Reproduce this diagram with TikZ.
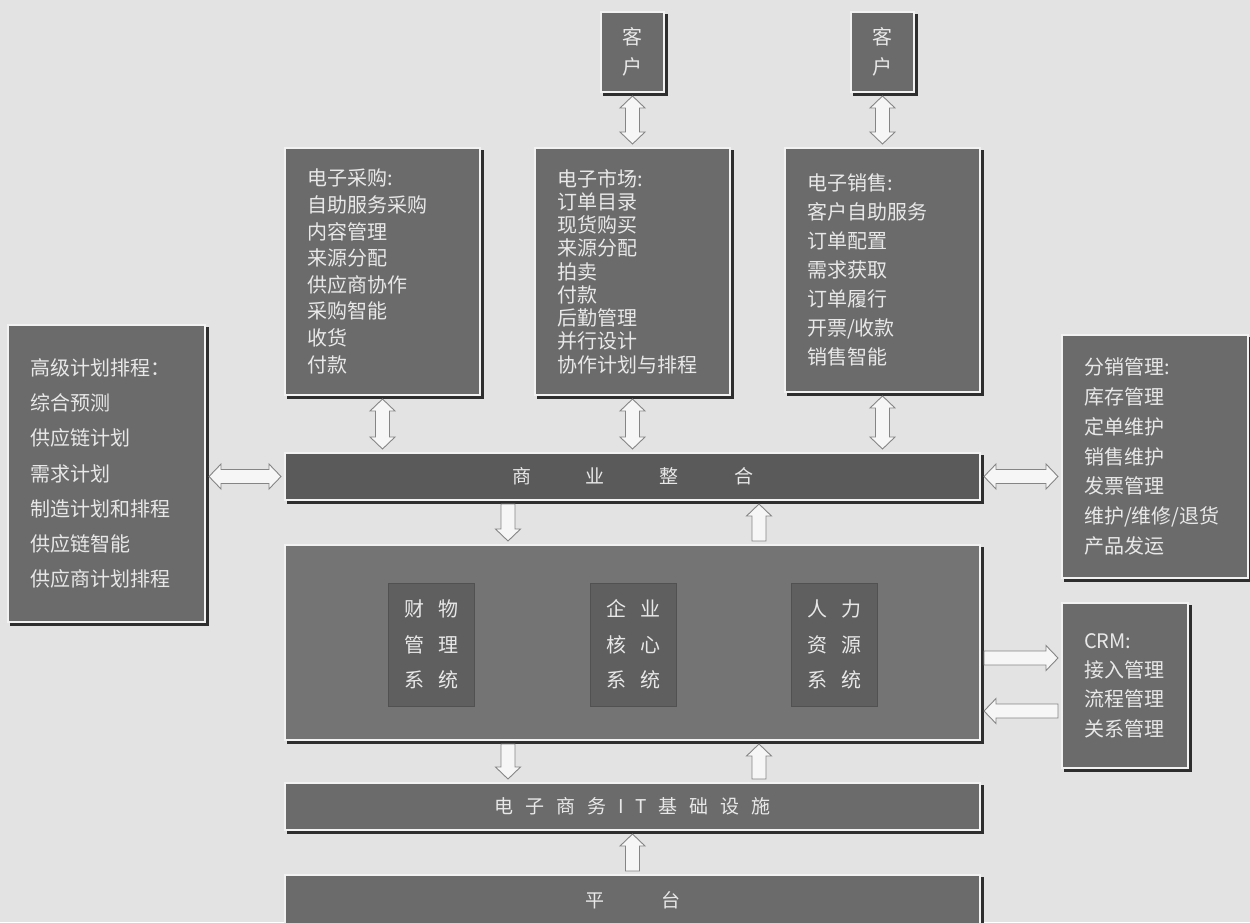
\documentclass[tikz,border=0pt]{standalone}
\usepackage{fontspec}
\setmainfont{Noto Sans CJK SC}
\usetikzlibrary{calc}
\definecolor{bgc}{HTML}{E3E3E3}
\definecolor{boxc}{HTML}{6B6B6B}
\definecolor{barc}{HTML}{5A5A5A}
\definecolor{corec}{HTML}{747474}
\definecolor{innerc}{HTML}{5F5F5F}
\definecolor{txtc}{HTML}{E8E8E8}
\definecolor{framec}{HTML}{F2F2F2}
\definecolor{shadc}{HTML}{2E2E2E}
\definecolor{arrc}{HTML}{858585}
\definecolor{arrf}{HTML}{F6F6F6}
\newcommand\arwS[2]{({\x1+((#1)*\n2-(#2)*\n3)*1pt},{\y1+((#1)*\n3+(#2)*\n2)*1pt})}
\newcommand\arwE[2]{({\x2+((#1)*\n2-(#2)*\n3)*1pt},{\y2+((#1)*\n3+(#2)*\n2)*1pt})}
\tikzset{
  bevel/.style={draw=framec, line width=2pt,
    preaction={draw=shadc, fill=shadc, line width=2pt, transform canvas={shift={(3pt,-3pt)}}}},
  tbox/.style={rectangle, bevel, fill=boxc, text=txtc, align=left,
    inner xsep=22pt, inner ysep=0pt},
  kbox/.style={rectangle, bevel, fill=boxc, text=txtc, align=center, inner sep=0pt,
    minimum width=63pt, minimum height=80pt, font=\fontsize{20}{30}\selectfont},
  bar/.style={rectangle, bevel, fill=barc, text=txtc, inner sep=0pt,
    minimum width=695pt, minimum height=47pt, font=\fontsize{19}{19}\selectfont},
  innerbox/.style={rectangle, fill=innerc, draw=innerc!85!black, line width=0.6pt, text=txtc,
    align=center, inner sep=0pt, minimum width=86pt, minimum height=123pt,
    font=\fontsize{20}{35.5}\selectfont},
  arrbase/.style={draw=arrc, fill=arrf, line width=0.9pt, line join=miter},
  sarrow/.style={arrbase, to path={let \p1=(\tikztostart), \p2=(\tikztotarget),
    \n1={veclen(\x2-\x1,\y2-\y1)}, \n2={(\x2-\x1)/\n1}, \n3={(\y2-\y1)/\n1} in
    \arwS{3}{7} -- \arwE{-15}{7} -- \arwE{-15}{12.5} -- \arwE{-3}{0} -- \arwE{-15}{-12.5}
    -- \arwE{-15}{-7} -- \arwS{3}{-7} -- cycle}},
  darrow/.style={arrbase, to path={let \p1=(\tikztostart), \p2=(\tikztotarget),
    \n1={veclen(\x2-\x1,\y2-\y1)}, \n2={(\x2-\x1)/\n1}, \n3={(\y2-\y1)/\n1} in
    \arwS{3}{0} -- \arwS{15}{12.5} -- \arwS{15}{7} -- \arwE{-15}{7} -- \arwE{-15}{12.5}
    -- \arwE{-3}{0} -- \arwE{-15}{-12.5} -- \arwE{-15}{-7} -- \arwS{15}{-7}
    -- \arwS{15}{-12.5} -- cycle}},
}
\begin{document}
\begin{tikzpicture}[x=1pt,y=-1pt]
\useasboundingbox (0,0) rectangle (1250,922);
\fill[bgc] (0,0) rectangle (1250,922);

% customers
\node[kbox] (k1) at (632.5,52) {客\\户};
\node[kbox] (k2) at (882.5,52) {客\\户};

% top boxes
\node[tbox, text width=151pt, minimum height=247pt, font=\fontsize{20}{26.6}\selectfont]
  (cg) at (382.5,271.5) {电子采购:\\自助服务采购\\内容管理\\来源分配\\供应商协作\\采购智能\\收货\\付款};
\node[tbox, text width=151pt, minimum height=247pt, font=\fontsize{20}{23.25}\selectfont]
  (sc) at (632.5,271.5) {电子市场:\\订单目录\\现货购买\\来源分配\\拍卖\\付款\\后勤管理\\并行设计\\协作计划与排程};
\node[tbox, text width=151pt, minimum height=244pt, font=\fontsize{20}{29}\selectfont]
  (xs) at (882.5,270) {电子销售:\\客户自助服务\\订单配置\\需求获取\\订单履行\\开票/收款\\销售智能};

% left box
\node[tbox, text width=153pt, minimum height=297pt, font=\fontsize{20}{35.3}\selectfont]
  (jh) at (106.5,473.5) {高级计划排程：\\综合预测\\供应链计划\\需求计划\\制造计划和排程\\供应链智能\\供应商计划排程};

% right boxes
\node[tbox, text width=142pt, minimum height=243pt, font=\fontsize{20}{29.7}\selectfont]
  (fx) at (1155,456.5) {分销管理:\\库存管理\\定单维护\\销售维护\\发票管理\\维护/维修/退货\\产品发运};
\node[tbox, text width=82pt, minimum height=165pt, font=\fontsize{20}{29.3}\selectfont]
  (crm) at (1125,685.5) {CRM:\\接入管理\\流程管理\\关系管理};

% bars
\node[bar] (zh) at (632.5,476.5) {商\hspace{55pt}业\hspace{55pt}整\hspace{55pt}合\hspace{14pt}};
\node[bar, fill=boxc] (it) at (632.5,806.5) {电\hspace{12pt}子\hspace{12pt}商\hspace{12pt}务\hspace{12pt}I\hspace{12pt}T\hspace{12pt}基\hspace{12pt}础\hspace{12pt}设\hspace{12pt}施\hspace{8pt}};
\node[bar, fill=boxc, minimum height=50pt] (pt) at (632.5,900) {平\hspace{57pt}台\hspace{14pt}};

% core
\node[rectangle, bevel, fill=corec, minimum width=695pt, minimum height=195pt] (core) at (632.5,642.5) {};
\node[innerbox] (cw) at (431.5,644.5) {财\hspace{14pt}物\\管\hspace{14pt}理\\系\hspace{14pt}统};
\node[innerbox] (qy) at (633,644.5) {企\hspace{14pt}业\\核\hspace{14pt}心\\系\hspace{14pt}统};
\node[innerbox] (rl) at (834,644.5) {人\hspace{14pt}力\\资\hspace{14pt}源\\系\hspace{14pt}统};

% helper coordinates
\coordinate (colA) at (508,0);
\coordinate (colB) at (759,0);
\coordinate (rowA) at (0,658);
\coordinate (rowB) at (0,711);

% connectors
\draw[darrow] (k1.south) to (sc.north);
\draw[darrow] (k2.south) to (xs.north);
\draw[darrow] (cg.south) to (cg.south |- zh.north);
\draw[darrow] (sc.south) to (sc.south |- zh.north);
\draw[darrow] (xs.south) to (xs.south |- zh.north);
\draw[darrow] (jh.east |- zh.west) to (zh.west);
\draw[darrow] (zh.east) to (zh.east -| fx.west);
\draw[sarrow] (zh.south -| colA) to (core.north -| colA);
\draw[sarrow] (core.north -| colB) to (zh.south -| colB);
\draw[sarrow] (core.east |- rowA) to (crm.west |- rowA);
\draw[sarrow] (crm.west |- rowB) to (core.east |- rowB);
\draw[sarrow] (core.south -| colA) to (it.north -| colA);
\draw[sarrow] (it.north -| colB) to (core.south -| colB);
\draw[sarrow] (pt.north) to (it.south);
\end{tikzpicture}
\end{document}
